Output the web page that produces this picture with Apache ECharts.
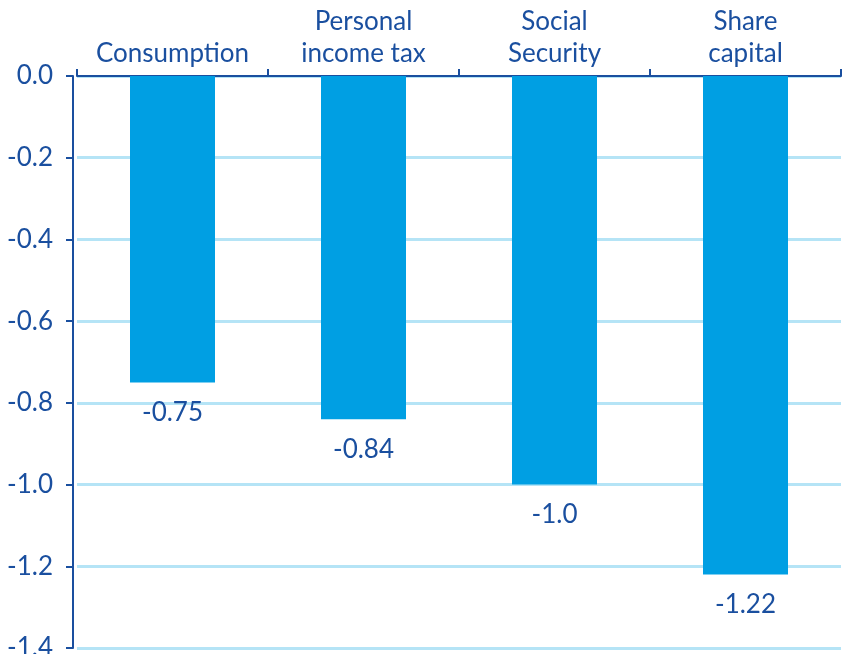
<!DOCTYPE html>
<html>
<head>
<meta charset="utf-8">
<script src="https://cdn.jsdelivr.net/npm/echarts@6/dist/echarts.min.js"></script>
<style>
  html, body { margin: 0; padding: 0; background: #fff; }
  #chart { width: 843px; height: 654px; }
</style>
</head>
<body>
<div id="chart"></div>
<script>
// Effect by tax type, percentage points
const categories = ['Consumption', 'Personal\nincome tax', 'Social\nSecurity', 'Share\ncapital'];
const values = [-0.75, -0.84, -1.0, -1.22];
const yTicks = { min: -1.4, max: 0, step: 0.2 };

const navy = '#1a4f9f';
const barBlue = '#009fe3';
const gridBlue = '#b5e4f6';
const font = 'Lato';
const fontSize = 26;

const chart = echarts.init(document.getElementById('chart'), null, { renderer: 'canvas' });

function fmtValue(v) {
  const s = String(Math.round(v * 100) / 100);
  return s.indexOf('.') < 0 ? s + '.0' : s;
}

chart.setOption({
  animation: false,
  grid: {
    left: 77, top: 76, width: 764, bottom: 6,
    containLabel: false, outerBoundsMode: 'none'
  },
  xAxis: {
    type: 'category',
    position: 'top',
    data: categories,
    axisLine: { show: true, lineStyle: { color: navy, width: 2 } },
    axisTick: { show: true, interval: 0, length: 7, lineStyle: { color: navy, width: 2 } },
    axisLabel: {
      interval: 0, hideOverlap: false,
      color: navy, fontFamily: font, fontSize: fontSize, lineHeight: 32, margin: 6
    },
    splitLine: { show: false }
  },
  yAxis: {
    type: 'value',
    min: yTicks.min,
    max: yTicks.max,
    interval: yTicks.step,
    offset: 4,
    axisLine: { show: true, lineStyle: { color: navy, width: 2 } },
    axisTick: { show: true, length: 7, lineStyle: { color: navy, width: 2 } },
    axisLabel: {
      color: navy, fontFamily: font, fontSize: fontSize, margin: 20,
      formatter: v => (Math.round(v * 10) / 10).toFixed(1)
    },
    splitLine: { show: true, lineStyle: { color: gridBlue, width: 3 } }
  },
  series: [{
    type: 'bar',
    data: values,
    barWidth: 85,
    itemStyle: { color: barBlue },
    label: {
      show: true,
      position: 'bottom',
      distance: 17,
      color: navy,
      fontFamily: font,
      fontSize: fontSize,
      formatter: p => fmtValue(p.value)
    }
  }]
});
</script>
</body>
</html>
